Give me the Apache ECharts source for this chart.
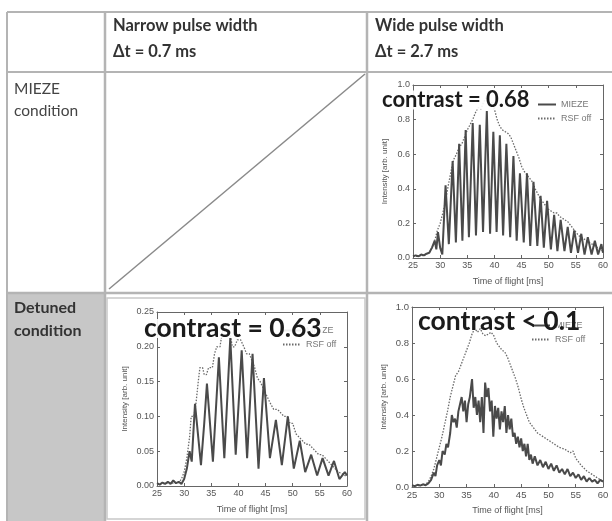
<!DOCTYPE html>
<html><head><meta charset="utf-8">
<script src="https://cdn.jsdelivr.net/npm/echarts@6/dist/echarts.min.js"></script>
<style>html,body{margin:0;padding:0;background:#fff}#c{width:612px;height:521px}</style>
</head><body><div id="c"></div>
<script>
// ---- data ----
const colHeaders = ['Narrow pulse width', 'Wide pulse width'];
const colSub = ['\u0394t = 0.7 ms', '\u0394t = 2.7 ms'];
const rowHeaders = ['MIEZE\ncondition', 'Detuned\ncondition'];
const contrastLabels = ['contrast = 0.68', 'contrast = 0.63', 'contrast < 0.1'];
const seriesNames = ['MIEZE', 'RSF off'];
const xTicks = [25, 60, 5];

// Wide pulse, MIEZE condition: [time of flight ms, intensity]
const wideMieze = [[25,0.01],[25.5,0.015],[26,0.01],[26.5,0.02],[27,0.015],[27.5,0.025],[28,0.03],[28.5,0.06],[29,0.1],[29.3,0.05],[29.6,0.15],[30.0,0.06],[30.4,0.02],[31.0,0.42],[31.6,0.08],[32.3,0.56],[32.9,0.09],[33.5,0.66],[34.1,0.1],[34.7,0.74],[35.3,0.12],[36.0,0.78],[36.6,0.13],[37.3,0.77],[37.9,0.15],[38.6,0.85],[39.2,0.14],[39.8,0.73],[40.4,0.15],[41.0,0.71],[41.6,0.13],[42.2,0.66],[42.9,0.12],[43.5,0.59],[44.1,0.1],[44.7,0.49],[45.4,0.09],[46.0,0.49],[46.6,0.07],[47.2,0.44],[47.9,0.07],[48.5,0.36],[49.1,0.06],[49.7,0.33],[50.4,0.05],[51.0,0.25],[51.6,0.04],[52.2,0.22],[52.9,0.04],[53.5,0.18],[54.1,0.03],[54.7,0.16],[55.4,0.03],[56.0,0.14],[56.6,0.02],[57.2,0.12],[57.9,0.02],[58.5,0.1],[59.1,0.02],[59.7,0.08],[60,0.03]];
const wideMiezeOff = [[25,0.01],[26,0.01],[27,0.015],[28,0.03],[28.5,0.06],[29,0.1],[29.5,0.16],[30,0.2],[30.5,0.26],[31,0.33],[31.5,0.42],[32,0.5],[32.5,0.57],[33,0.6],[33.5,0.64],[34,0.66],[34.5,0.7],[35,0.74],[35.5,0.77],[36,0.8],[36.5,0.84],[37,0.87],[37.5,0.86],[38,0.9],[38.5,0.93],[39,0.88],[39.5,0.9],[40,0.86],[40.5,0.8],[41,0.76],[41.5,0.74],[42,0.73],[42.5,0.72],[43,0.7],[43.5,0.66],[44,0.62],[44.5,0.58],[45,0.53],[45.5,0.5],[46,0.48],[46.5,0.46],[47,0.44],[47.5,0.4],[48,0.37],[48.5,0.34],[49,0.32],[49.5,0.3],[50,0.28],[50.5,0.27],[51,0.26],[51.5,0.26],[52,0.24],[52.5,0.23],[53,0.22],[53.5,0.21],[54,0.19],[54.5,0.17],[55,0.15],[55.5,0.13],[56,0.12],[56.5,0.11],[57,0.1],[57.5,0.09],[58,0.08],[58.5,0.07],[59,0.06],[59.5,0.05],[60,0.04]];

// Narrow pulse, detuned condition
const narrowDetuned = [[25,0.004],[25.5,0.002],[26,0.005],[26.5,0.003],[27,0.006],[27.5,0.003],[28,0.008],[28.5,0.004],[29,0.006],[29.5,0.003],[30,0.01],[30.5,0.025],[31,0.05],[31.4,0.035],[32.0,0.118],[33.1,0.03],[33.7,0.09],[34.2,0.147],[35.3,0.035],[36.4,0.185],[37.4,0.04],[38.5,0.213],[39.5,0.045],[40.6,0.195],[41.6,0.04],[42.6,0.19],[43.7,0.025],[44.7,0.155],[45.8,0.04],[46.9,0.095],[48.0,0.03],[49.1,0.10],[50.2,0.025],[51.3,0.065],[52.3,0.02],[53.4,0.045],[54.5,0.015],[55.5,0.04],[56.6,0.015],[57.6,0.036],[58.6,0.01],[59.6,0.02],[60,0.015]];
const narrowDetunedOff = [[25,0.003],[27,0.004],[28,0.004],[29,0.005],[29.5,0.01],[30,0.02],[30.5,0.04],[31,0.07],[31.3,0.1],[31.8,0.1],[32.2,0.12],[32.6,0.15],[32.9,0.17],[33.4,0.17],[33.7,0.16],[34.1,0.16],[34.5,0.17],[35.2,0.17],[35.6,0.19],[36.0,0.2],[36.6,0.2],[37.0,0.22],[37.6,0.23],[38.4,0.22],[38.9,0.2],[39.3,0.2],[39.8,0.21],[40.4,0.21],[41.0,0.2],[41.5,0.19],[42.0,0.19],[42.5,0.18],[43.0,0.17],[43.5,0.155],[44.0,0.15],[44.6,0.14],[45.2,0.13],[45.8,0.12],[46.5,0.11],[47.2,0.11],[47.8,0.105],[48.4,0.1],[49.0,0.1],[49.5,0.09],[50.0,0.09],[50.6,0.075],[51.2,0.07],[51.8,0.065],[52.4,0.06],[53.0,0.06],[53.6,0.055],[54.2,0.05],[54.8,0.045],[55.4,0.045],[56.0,0.04],[56.6,0.035],[57.2,0.03],[57.8,0.025],[58.4,0.02],[59.0,0.018],[59.6,0.015],[60,0.015]];

// Wide pulse, detuned condition
const wideDetuned = [[25,0.01],[25.5,0.005],[26,0.012],[26.5,0.008],[27,0.015],[27.5,0.01],[28,0.02],[28.5,0.04],[29,0.08],[29.3,0.06],[29.6,0.12],[30,0.15],[30.3,0.12],[30.6,0.2],[31,0.18],[31.3,0.24],[31.6,0.22],[32,0.3],[32.3,0.4],[32.6,0.36],[32.9,0.38],[33.2,0.33],[33.5,0.42],[33.8,0.46],[34.1,0.5],[34.4,0.42],[34.7,0.48],[35.0,0.36],[35.3,0.46],[35.6,0.5],[36.0,0.6],[36.3,0.44],[36.6,0.5],[36.9,0.4],[37.2,0.48],[37.5,0.36],[37.8,0.5],[38.1,0.3],[38.4,0.58],[38.7,0.5],[39.0,0.55],[39.3,0.42],[39.6,0.48],[39.9,0.28],[40.2,0.45],[40.5,0.38],[40.8,0.44],[41.1,0.32],[41.4,0.42],[41.7,0.36],[42.0,0.45],[42.3,0.3],[42.6,0.4],[42.9,0.32],[43.2,0.38],[43.5,0.28],[43.8,0.3],[44.1,0.24],[44.4,0.28],[44.7,0.22],[45.0,0.27],[45.3,0.2],[45.6,0.24],[45.9,0.17],[46.2,0.24],[46.5,0.15],[46.8,0.18],[47.1,0.13],[47.5,0.17],[48,0.12],[48.5,0.15],[49,0.11],[49.5,0.14],[50,0.1],[50.5,0.13],[51,0.09],[51.5,0.12],[52,0.08],[52.5,0.1],[53,0.07],[53.5,0.1],[54,0.06],[54.5,0.08],[55,0.05],[55.5,0.07],[56,0.04],[56.5,0.06],[57,0.03],[57.5,0.05],[58,0.03],[58.5,0.04],[59,0.02],[59.5,0.04],[60,0.03]];
const wideDetunedOff = [[25,0.005],[26,0.008],[27,0.01],[27.5,0.015],[28,0.03],[28.5,0.06],[29,0.1],[29.5,0.16],[30,0.22],[30.5,0.28],[31,0.35],[31.5,0.42],[32,0.5],[32.5,0.56],[33,0.62],[33.5,0.64],[34,0.68],[34.5,0.72],[35,0.76],[35.5,0.8],[36,0.85],[36.5,0.88],[37,0.86],[37.5,0.88],[38,0.85],[38.5,0.84],[39,0.85],[39.5,0.86],[40,0.84],[40.5,0.8],[41,0.78],[41.5,0.76],[42,0.75],[42.5,0.72],[43,0.68],[43.5,0.64],[44,0.6],[44.5,0.55],[45,0.49],[45.5,0.44],[46,0.4],[46.5,0.36],[47,0.34],[47.5,0.32],[48,0.3],[49,0.28],[50,0.26],[51,0.24],[52,0.22],[53,0.21],[54,0.19],[54.5,0.2],[55,0.16],[56,0.12],[57,0.09],[58,0.07],[59,0.05],[60,0.03]];

const yRanges = [[0, 1.0, 0.2, 1], [0, 0.25, 0.05, 2], [0, 1.0, 0.2, 1]];

// ---- layout ----
const grids = [
  {left: 413, top: 85, width: 190, height: 173},
  {left: 157, top: 312, width: 190, height: 174},
  {left: 412, top: 307, width: 191, height: 180}
];
const yNameGaps = [24, 28, 24];
const tickSizes = [9, 9, 9.5];
const lineC = '#b4b4b4';
const axC = '#666';

const xAxis = [], yAxis = [];
grids.forEach((g, i) => {
  const yr = yRanges[i];
  const tickFont = {fontSize: tickSizes[i], color: '#555', fontFamily: 'Liberation Sans'};
  xAxis.push({type: 'value', gridIndex: i, min: xTicks[0], max: xTicks[1], interval: xTicks[2],
    name: 'Time of flight [ms]', nameLocation: 'middle', nameGap: 19,
    nameTextStyle: {fontSize: 9, color: '#555', fontFamily: 'Liberation Sans'},
    axisLine: {onZero: false, lineStyle: {color: axC}}, axisTick: {inside: true, length: 3, lineStyle: {color: axC}},
    axisLabel: Object.assign({margin: 3}, tickFont), splitLine: {show: false}});
  xAxis.push({type: 'value', gridIndex: i, position: 'top', min: xTicks[0], max: xTicks[1], interval: xTicks[2],
    axisLine: {onZero: false, lineStyle: {color: axC}}, axisTick: {inside: true, length: 3, lineStyle: {color: axC}},
    axisLabel: {show: false}, splitLine: {show: false}});
  yAxis.push({type: 'value', gridIndex: i, min: yr[0], max: yr[1], interval: yr[2],
    name: 'Intensity [arb. unit]', nameLocation: 'middle', nameGap: yNameGaps[i],
    nameTextStyle: {fontSize: 8, color: '#555', fontFamily: 'Liberation Sans'},
    axisLine: {show: true, onZero: false, lineStyle: {color: axC}}, axisTick: {show: true, inside: true, length: 3, lineStyle: {color: axC}},
    axisLabel: Object.assign({margin: 3, formatter: v => v.toFixed(yr[3])}, tickFont), splitLine: {show: false}});
  yAxis.push({type: 'value', gridIndex: i, position: 'right', min: yr[0], max: yr[1], interval: yr[2],
    axisLine: {show: true, onZero: false, lineStyle: {color: axC}}, axisTick: {show: true, inside: true, length: 3, lineStyle: {color: axC}},
    axisLabel: {show: false}, splitLine: {show: false}});
});

const dataSets = [[wideMieze, wideMiezeOff], [narrowDetuned, narrowDetunedOff], [wideDetuned, wideDetunedOff]];
const series = [];
dataSets.forEach((pair, i) => {
  series.push({name: seriesNames[1], type: 'line', xAxisIndex: 2 * i, yAxisIndex: 2 * i, data: pair[1],
    symbol: 'none', showSymbol: false, silent: true, z: 2,
    itemStyle: {color: '#6a6a6a', opacity: 0},
    lineStyle: {color: '#6a6a6a', width: 1.3, type: [1.5, 1.5]}});
  series.push({name: seriesNames[0], type: 'line', xAxisIndex: 2 * i, yAxisIndex: 2 * i, data: pair[0],
    symbol: 'none', showSymbol: false, silent: true, z: 3,
    itemStyle: {color: '#4a4a4a', opacity: 0},
    lineStyle: {color: '#4a4a4a', width: 2}});
});

const legendPos = [[532, 95], [277, 321], [526, 316]];
const legend = legendPos.map(p => ({
  data: [seriesNames[0], seriesNames[1]], left: p[0], top: p[1], orient: 'vertical',
  itemWidth: 18, itemHeight: 6, itemGap: 5, selectedMode: false,
  itemStyle: {opacity: 0},
  textStyle: {fontSize: 9, color: '#777', fontFamily: 'Liberation Sans'}
}));

const hdrFont = 'Lato';
const graphic = [
  {type: 'rect', shape: {x: 8, y: 294, width: 97, height: 227}, style: {fill: '#c7c7c7'}, z: 0},
  {type: 'rect', shape: {x: 107, y: 298, width: 258, height: 221}, style: {fill: 'none', stroke: '#c8c8c8', lineWidth: 1.5}, z: 1},
  {type: 'line', shape: {x1: 7, y1: 12, x2: 612, y2: 12}, style: {stroke: lineC, lineWidth: 2}},
  {type: 'line', shape: {x1: 7, y1: 72, x2: 612, y2: 72}, style: {stroke: lineC, lineWidth: 2}},
  {type: 'line', shape: {x1: 7, y1: 293, x2: 612, y2: 293}, style: {stroke: lineC, lineWidth: 2.5}},
  {type: 'line', shape: {x1: 7, y1: 12, x2: 7, y2: 521}, style: {stroke: lineC, lineWidth: 2}},
  {type: 'line', shape: {x1: 105, y1: 12, x2: 105, y2: 521}, style: {stroke: lineC, lineWidth: 2.5}},
  {type: 'line', shape: {x1: 367, y1: 12, x2: 367, y2: 521}, style: {stroke: lineC, lineWidth: 2.5}},
  {type: 'line', shape: {x1: 109, y1: 289, x2: 365, y2: 74}, style: {stroke: '#8a8a8a', lineWidth: 1.5}},
  {type: 'text', left: 113, top: 17, style: {text: colHeaders[0], font: 'bold 16.5px ' + hdrFont, fill: '#333'}},
  {type: 'text', left: 113, top: 43, style: {text: colSub[0], font: 'bold 16.5px ' + hdrFont, fill: '#333'}},
  {type: 'text', left: 375, top: 17, style: {text: colHeaders[1], font: 'bold 16.5px ' + hdrFont, fill: '#333'}},
  {type: 'text', left: 375, top: 43, style: {text: colSub[1], font: 'bold 16.5px ' + hdrFont, fill: '#333'}},
  {type: 'text', left: 14, top: 78, style: {text: rowHeaders[0], font: '15.5px ' + hdrFont, fill: '#444', lineHeight: 22}},
  {type: 'text', left: 14, top: 296, style: {text: rowHeaders[1], font: 'bold 16px ' + hdrFont, fill: '#333', lineHeight: 23}},
  {type: 'text', left: 381, top: 89, z: 10, style: {text: contrastLabels[0], font: 'bold 22px ' + hdrFont, fill: '#1b1b1b', lineHeight: 19, backgroundColor: 'rgba(255,255,255,0.9)', padding: [0, 1]}},
  {type: 'text', left: 143, top: 315, z: 10, style: {text: contrastLabels[1], font: 'bold 26.5px ' + hdrFont, fill: '#1b1b1b', lineHeight: 19, backgroundColor: 'rgba(255,255,255,0.9)', padding: [0, 1]}},
  {type: 'text', left: 418, top: 308, z: 10, style: {text: contrastLabels[2], font: 'bold 26.5px ' + hdrFont, fill: '#1b1b1b'}}
];

const chart = echarts.init(document.getElementById('c'), null, {renderer: 'canvas'});
chart.setOption({
  backgroundColor: '#fff', animation: false,
  grid: grids.map(g => Object.assign({show: false}, g)),
  xAxis, yAxis, series, legend, graphic
});
</script></body></html>
